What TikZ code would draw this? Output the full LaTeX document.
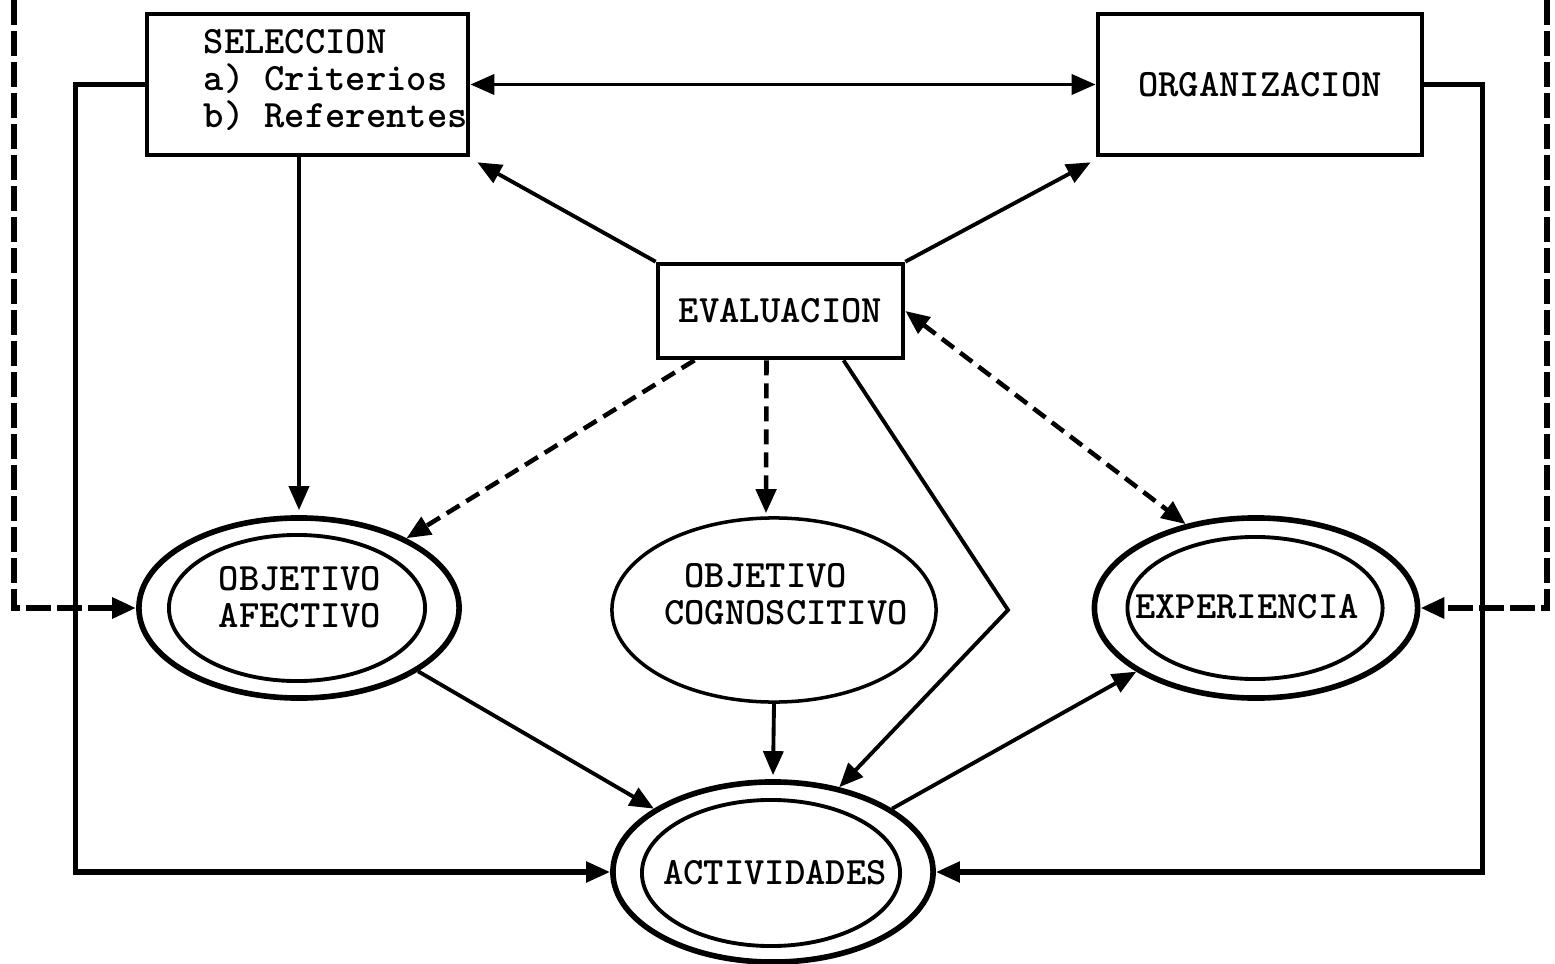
\documentclass[tikz,border=0pt]{standalone}
\usepackage{fontspec}
\usetikzlibrary{arrows.meta,shapes.geometric,calc}
\begin{document}
\begin{tikzpicture}[x=0.01cm,y=-0.01cm,
  >={Triangle[length=0.24cm,width=0.2cm]},
  every node/.style={font=\ttfamily\bfseries\fontsize{11}{10.6}\selectfont},
  box/.style={draw,line width=1.3pt,inner sep=0pt},
  outerell/.style={draw,ellipse,line width=1.6pt,inner sep=0pt},
  innerell/.style={draw,ellipse,line width=1.1pt,inner sep=0pt},
  link/.style={line width=1.1pt},
  loop/.style={line width=1.5pt},
  dashlink/.style={line width=1.3pt,dash pattern=on 0.15cm off 0.08cm},
  outdash/.style={line width=1.8pt,dash pattern=on 0.25cm off 0.06cm},
  lbl/.style={align=center,inner sep=0pt}
]
\useasboundingbox (0,0) rectangle (1555,964);

% boxes
\node[box,minimum width=3.21cm,minimum height=1.41cm] (sel) at (307.5,84.5) {};
\node[anchor=west,align=left,inner sep=0pt] (seltxt) at (203,80) {SELECCION\\a) Criterios\\b) Referentes};
\node[box,minimum width=3.24cm,minimum height=1.41cm] (org) at (1260,84.5) {ORGANIZACION};
\node[box,minimum width=2.45cm,minimum height=0.94cm] (eval) at (780.5,311) {EVALUACION};

% ellipses
\node[outerell,minimum width=3.2cm,minimum height=1.8cm] (afec) at (299,608) {};
\node[innerell,minimum width=2.56cm,minimum height=1.46cm] (afecin) at (297,608) {};
\node[lbl] (afectxt) at (300,597) {OBJETIVO\\AFECTIVO};

\node[draw,ellipse,line width=1pt,inner sep=0pt,minimum width=3.24cm,minimum height=1.84cm] (cogn) at (774,610) {};
\node[lbl,align=left] (cogntxt) at (786,594) {\hspace*{0.525em}OBJETIVO\\COGNOSCITIVO};

\node[outerell,minimum width=3.23cm,minimum height=1.8cm] (expe) at (1256,608) {};
\node[innerell,minimum width=2.55cm,minimum height=1.42cm] (expein) at (1255,608) {};
\node[lbl] (expetxt) at (1247,607) {EXPERIENCIA};

\node[outerell,minimum width=3.2cm,minimum height=1.8cm] (acti) at (773,872) {};
\node[innerell,minimum width=2.58cm,minimum height=1.46cm] (actiin) at (771,873) {};
\node[lbl] (actitxt) at (775,873) {ACTIVIDADES};

% connectors
\draw[link,<->] (sel.east) -- (org.west);
\draw[link,->] (sel.south -| afec.north) -- ([yshift=0.05cm]afec.north);
\draw[link,->] (eval.north west) -- ([shift={(0.07cm,-0.05cm)}]sel.south east);
\draw[link,->] (eval.north east) -- ([shift={(-0.05cm,-0.05cm)}]org.south west);
\draw[dashlink,<->] (eval.east) -- (expe.130);
\draw[dashlink,->] ([xshift=-0.86cm]eval.south) -- (afec.33);
\draw[dashlink,->] ([xshift=-0.14cm]eval.south) -- ([xshift=-0.08cm,yshift=0.03cm]cogn.north);
\coordinate (kink) at (1008,610);
\draw[link,->] ([xshift=0.63cm]eval.south) -- (kink) -- (acti.52);
\draw[link,->] (afec.-28) -- (acti.152);
\draw[link,->] (cogn.south) -- ([yshift=0.04cm]acti.north);
\draw[link,->] (acti.28) -- (expe.208);
\draw[loop,->] (sel.west) -- ++(-69,0) |- (acti.west);
\draw[loop,->] (org.east) -- ++(58,0) |- (acti.east);

% outer feedback lines
\coordinate (ltop) at (14,0);
\coordinate (rtop) at (1547,0);
\draw[outdash,->] (ltop) |- (afec.west);
\draw[outdash,->] (rtop) |- (expe.east);
\end{tikzpicture}
\end{document}
